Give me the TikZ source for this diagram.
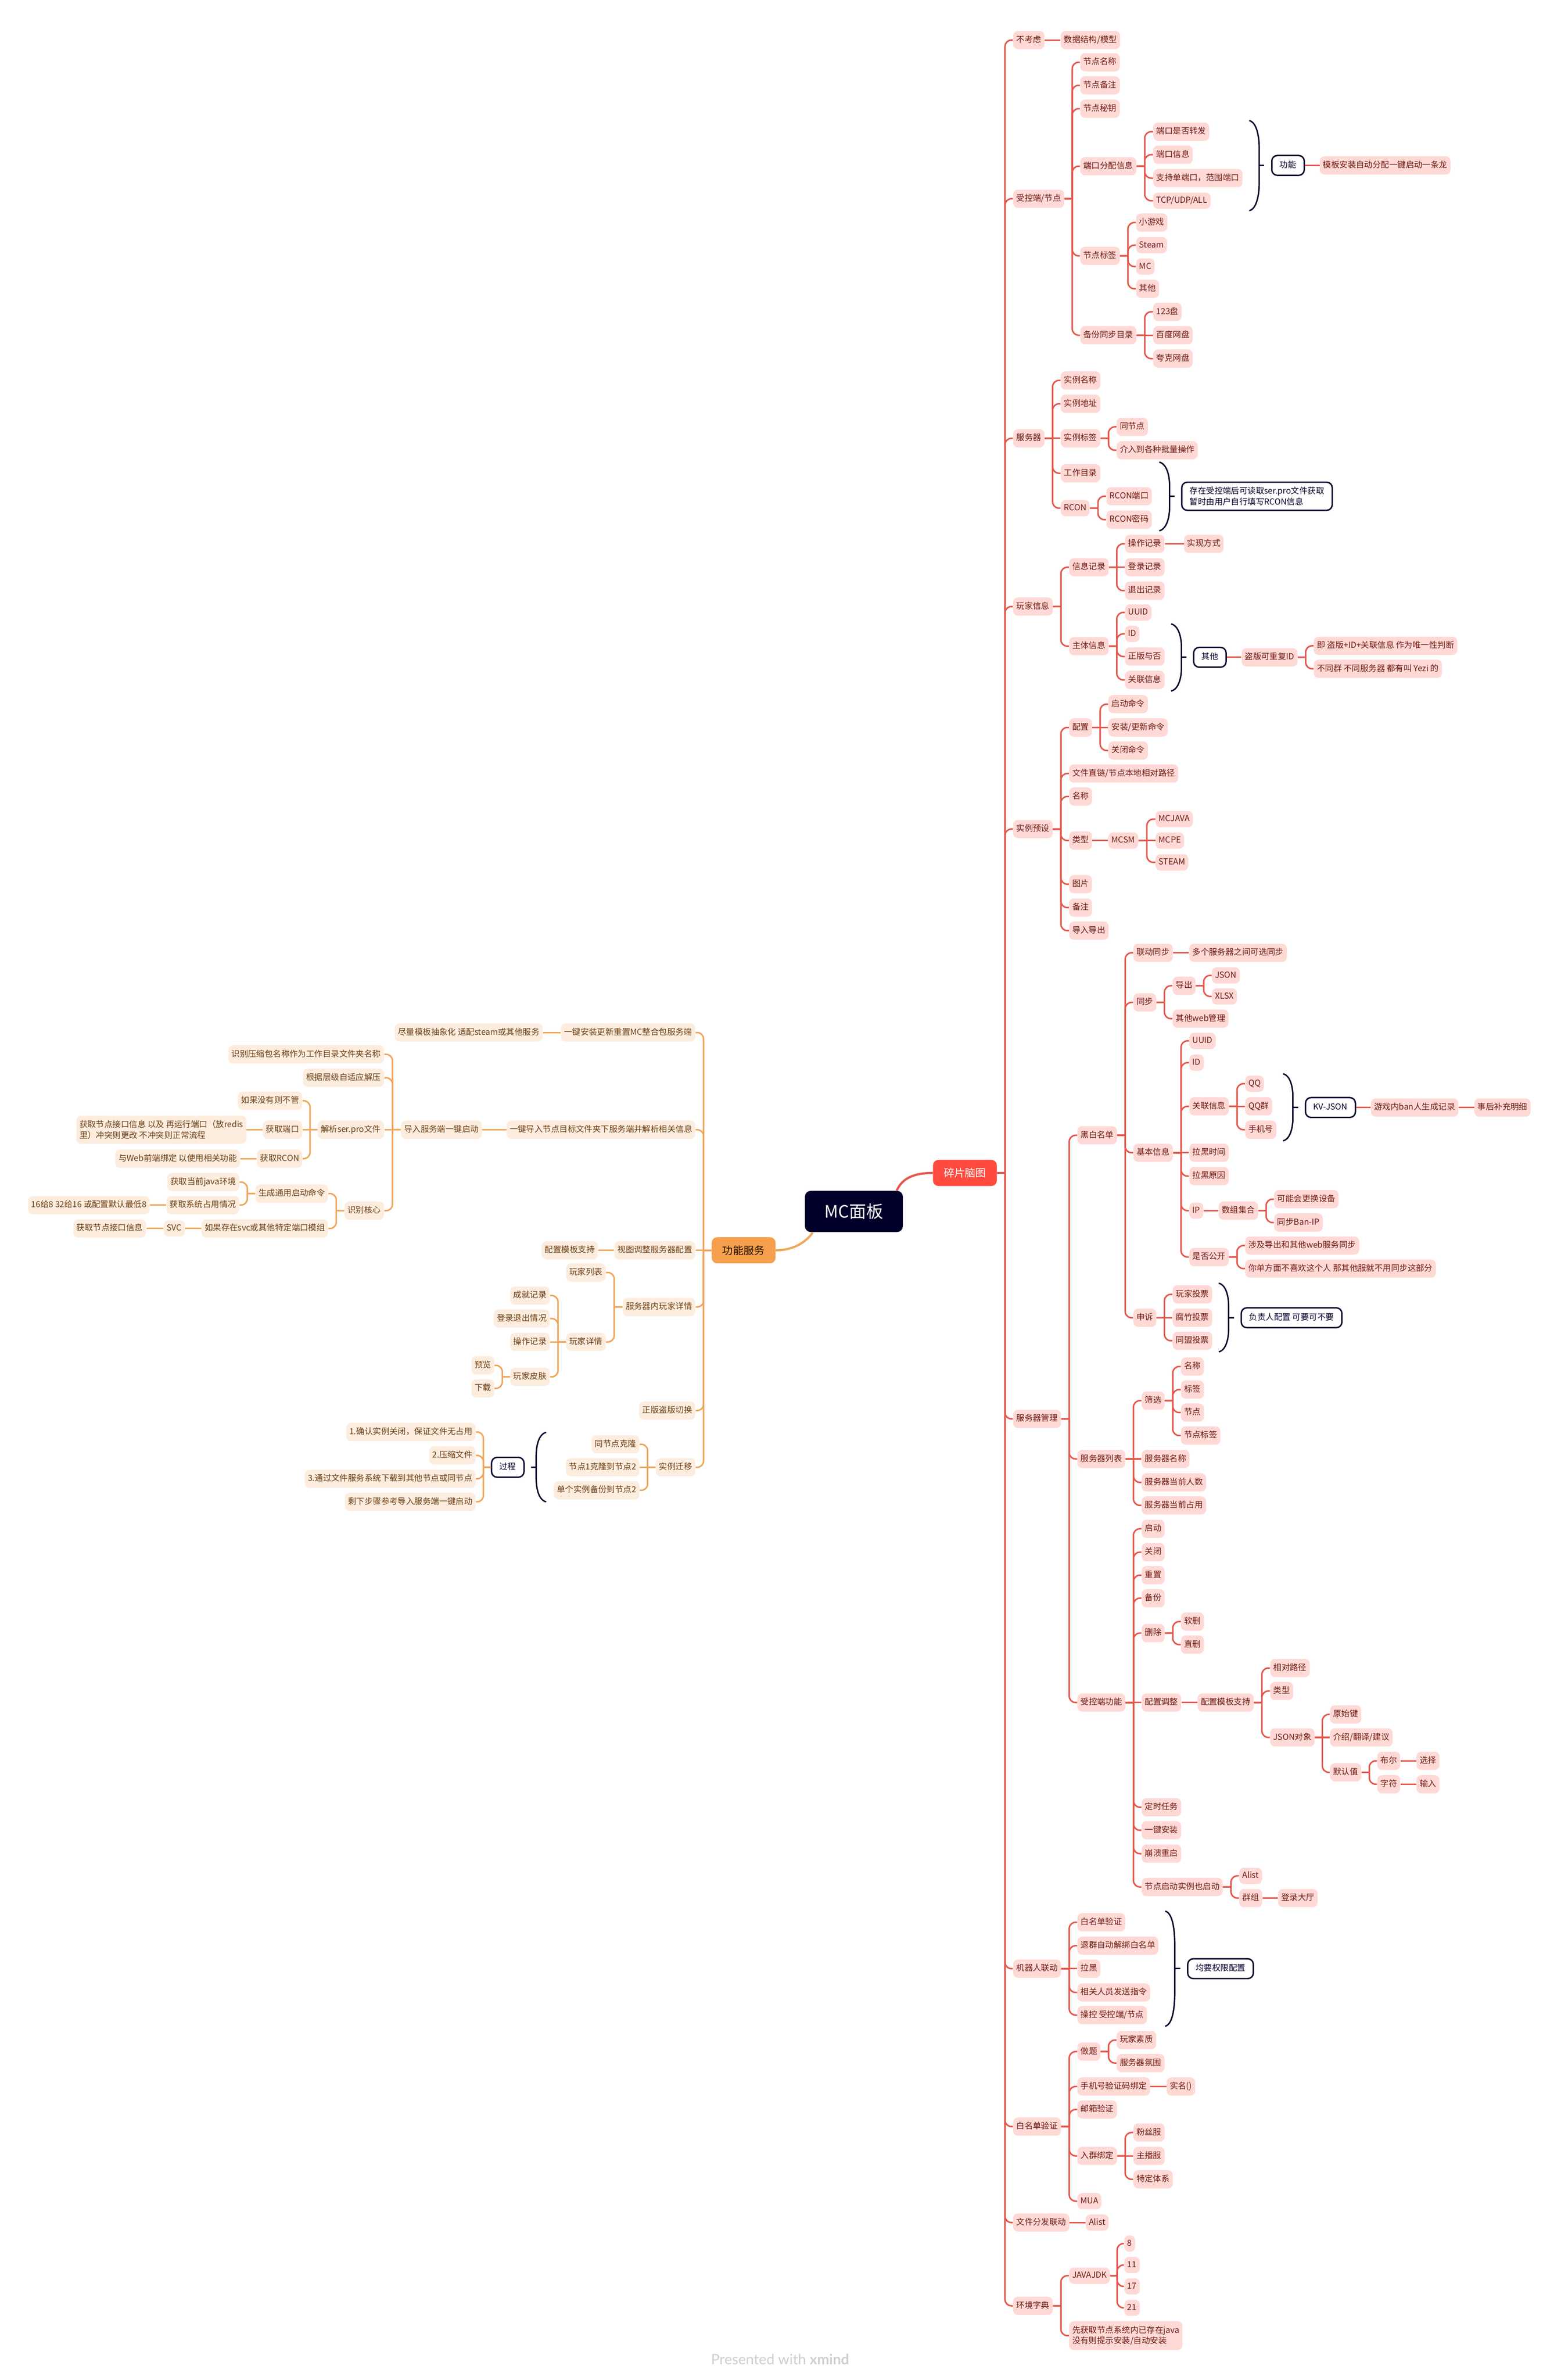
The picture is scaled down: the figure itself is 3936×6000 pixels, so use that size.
\documentclass[tikz,border=0pt]{standalone}
\usepackage{fontspec}
\setmainfont{Noto Sans CJK SC}
\newfontfamily\markfont{Lato}
\usepackage{xcolor}
\usetikzlibrary{calc}
\definecolor{redfill}{HTML}{FFD9D6}
\definecolor{redtext}{HTML}{6E1A12}
\definecolor{redstroke}{HTML}{E6574C}
\definecolor{redmainfill}{HTML}{FF4A3F}
\definecolor{orangefill}{HTML}{FDEDDF}
\definecolor{orangetext}{HTML}{6B3D12}
\definecolor{orangestroke}{HTML}{F0A55A}
\definecolor{orangemainfill}{HTML}{F6A04D}
\definecolor{navy}{HTML}{00002A}
\definecolor{marktext}{HTML}{CFCFCF}
\newcommand{\leaffont}{\fontsize{5.95}{7.8}\selectfont}
\tikzstyle{redleaf} = [rectangle, rounded corners=1.2mm, minimum height=4.6mm, inner xsep=0.8mm, inner ysep=0mm, text height=1.65mm, text depth=0.45mm, fill=redfill, text=redtext, anchor=west, font=\leaffont]
\tikzstyle{redshort} = [redleaf, minimum height=4.1mm]
\tikzstyle{orangeleaf} = [rectangle, rounded corners=1.2mm, minimum height=4.6mm, inner xsep=0.8mm, inner ysep=0mm, text height=1.65mm, text depth=0.45mm, fill=orangefill, text=orangetext, anchor=east, font=\leaffont]
\tikzstyle{orangeshort} = [orangeleaf, minimum height=4.1mm]
\tikzstyle{noteleft} = [rectangle, rounded corners=1.4mm, minimum height=5mm, inner xsep=2mm, inner ysep=0mm, text height=1.65mm, text depth=0.45mm, draw=navy, line width=0.35mm, fill=white, text=navy, anchor=west, font=\leaffont]
\tikzstyle{noteright} = [noteleft, anchor=east]
\tikzstyle{twolines} = [text height=, text depth=, align=left, inner ysep=1.2mm]
\tikzstyle{rootbox} = [rectangle, rounded corners=1.5mm, minimum width=24.7mm, minimum height=10.4mm, fill=navy, text=white, font=\fontsize{12.2}{14}\selectfont]
\tikzstyle{redmain} = [rectangle, rounded corners=1.4mm, minimum width=16.1mm, minimum height=6.6mm, fill=redmainfill, text=white, font=\fontsize{7.6}{9}\selectfont]
\tikzstyle{orangemain} = [rectangle, rounded corners=1.4mm, minimum width=16.1mm, minimum height=6.6mm, fill=orangemainfill, text=black!85!orange, font=\fontsize{7.6}{9}\selectfont]
\tikzstyle{twig} = [rounded corners=1.6mm, to path={-- ($(\tikztostart)!0.5!(\tikztostart -| \tikztotarget)$) ($(\tikztostart)!0.5!(\tikztostart -| \tikztotarget)$) |- (\tikztotarget)}]
\tikzstyle{redline} = [twig, draw=redstroke, line width=0.38mm]
\tikzstyle{orangeline} = [twig, draw=orangestroke, line width=0.38mm]
\tikzstyle{redcurve} = [draw=redstroke, line width=0.55mm]
\tikzstyle{orangecurve} = [draw=orangestroke, line width=0.55mm]
\tikzstyle{brace} = [draw=navy, line width=0.35mm]
\tikzstyle{watermarktext} = [text=marktext, font=\markfont\fontsize{10.3}{12}\selectfont]

\begin{document}
\begin{tikzpicture}[x=0.1mm, y=-0.1mm]
\path [use as bounding box, fill=white] (0,-2) rectangle (3936,5998);

\node (mc) [rootbox] at (2153,3052) {MC面板};
\node (suipian) [redmain] at (2433,2955) {碎片脑图};
\node (gongneng) [orangemain] at (1875,3150) {功能服务};
\draw [redcurve] (mc.26) .. controls (2275,2968) and (2305,2955) .. (suipian.west);
\draw [orangecurve] (mc.207) .. controls (2032,3130) and (2000,3150) .. (gongneng.east);

\node (exclude) [redleaf] at (2554,99) {不考虑};
\node (datamodel) [redleaf] at (2674,99) {数据结构/模型};
\node (agent) [redleaf] at (2554,499) {受控端/节点};
\node (agent-name) [redleaf] at (2723,155) {节点名称};
\node (agent-note) [redleaf] at (2723,213) {节点备注};
\node (agent-key) [redleaf] at (2723,272) {节点秘钥};
\node (port) [redleaf] at (2723,417) {端口分配信息};
\node (tag) [redleaf] at (2723,643) {节点标签};
\node (backup) [redleaf] at (2723,843) {备份同步目录};
\node (port-forward) [redleaf] at (2907,330) {端口是否转发};
\node (port-info) [redleaf] at (2907,388) {端口信息};
\node (port-range) [redleaf] at (2907,447) {支持单端口，范围端口};
\node (port-proto) [redshort] at (2907,504) {TCP/UDP/ALL};
\node (tag-game) [redleaf] at (2864,559) {小游戏};
\node (tag-steam) [redshort] at (2864,616) {Steam};
\node (tag-mc) [redshort] at (2864,670) {MC};
\node (tag-other) [redleaf] at (2864,726) {其他};
\node (backup-123) [redleaf] at (2907,784) {123盘};
\node (backup-baidu) [redleaf] at (2907,843) {百度网盘};
\node (backup-quark) [redleaf] at (2907,902) {夸克网盘};
\node (feature) [noteleft] at (3205,415) {功能};
\node (feature-text) [redleaf] at (3327,415) {模板安装自动分配一键启动一条龙};

\node (server) [redleaf] at (2554,1103) {服务器};
\node (inst-name) [redleaf] at (2674,957) {实例名称};
\node (inst-addr) [redleaf] at (2674,1016) {实例地址};
\node (inst-tag) [redleaf] at (2674,1103) {实例标签};
\node (inst-dir) [redleaf] at (2674,1191) {工作目录};
\node (rcon) [redshort] at (2674,1279) {RCON};
\node (tag-same) [redleaf] at (2815,1074) {同节点};
\node (tag-batch) [redleaf] at (2815,1133) {介入到各种批量操作};
\node (rcon-port) [redleaf] at (2789,1249) {RCON端口};
\node (rcon-pass) [redleaf] at (2789,1308) {RCON密码};
\node (rcon-box) [noteleft, twolines] at (2978,1249) {存在受控端后可读取ser.pro文件获取\\暂时由用户自行填写RCON信息};

\node (player) [redleaf] at (2554,1527) {玩家信息};
\node (record) [redleaf] at (2695,1428) {信息记录};
\node (subject) [redleaf] at (2695,1627) {主体信息};
\node (rec-op) [redleaf] at (2836,1369) {操作记录};
\node (rec-how) [redleaf] at (2985,1369) {实现方式};
\node (rec-login) [redleaf] at (2836,1428) {登录记录};
\node (rec-logout) [redleaf] at (2836,1487) {退出记录};
\node (sub-uuid) [redshort] at (2836,1542) {UUID};
\node (sub-id) [redshort] at (2836,1596) {ID};
\node (sub-genuine) [redleaf] at (2836,1653) {正版与否};
\node (sub-link) [redleaf] at (2836,1712) {关联信息};
\node (other) [noteleft] at (3008,1655) {其他};
\node (pirate) [redleaf] at (3130,1655) {盗版可重复ID};
\node (pirate-a) [redleaf] at (3312,1626) {即 盗版+ID+关联信息 作为唯一性判断};
\node (pirate-b) [redleaf] at (3312,1684) {不同群 不同服务器 都有叫 Yezi 的};

\node (preset) [redleaf] at (2554,2088) {实例预设};
\node (config) [redleaf] at (2695,1832) {配置};
\node (file-link) [redleaf] at (2695,1948) {文件直链/节点本地相对路径};
\node (pre-name) [redleaf] at (2695,2006) {名称};
\node (pre-type) [redleaf] at (2695,2117) {类型};
\node (pre-image) [redleaf] at (2695,2227) {图片};
\node (pre-note) [redleaf] at (2695,2286) {备注};
\node (pre-io) [redleaf] at (2695,2344) {导入导出};
\node (cmd-start) [redleaf] at (2794,1773) {启动命令};
\node (cmd-update) [redleaf] at (2794,1832) {安装/更新命令};
\node (cmd-stop) [redleaf] at (2794,1890) {关闭命令};
\node (mcsm) [redshort] at (2794,2117) {MCSM};
\node (mcjava) [redshort] at (2913,2063) {MCJAVA};
\node (mcpe) [redshort] at (2913,2117) {MCPE};
\node (steam) [redshort] at (2913,2172) {STEAM};

\node (manage) [redleaf] at (2554,3575) {服务器管理};
\node (blacklist) [redleaf] at (2716,2860) {黑白名单};
\node (srvlist) [redleaf] at (2716,3676) {服务器列表};
\node (ctrl) [redleaf] at (2716,4290) {受控端功能};
\node (sync-link) [redleaf] at (2857,2400) {联动同步};
\node (sync-multi) [redleaf] at (2998,2400) {多个服务器之间可选同步};
\node (sync) [redleaf] at (2857,2525) {同步};
\node (export) [redleaf] at (2956,2483) {导出};
\node (web) [redleaf] at (2956,2566) {其他web管理};
\node (json) [redshort] at (3055,2457) {JSON};
\node (xlsx) [redshort] at (3055,2510) {XLSX};
\node (basic) [redleaf] at (2857,2904) {基本信息};
\node (ban-uuid) [redshort] at (2998,2622) {UUID};
\node (ban-id) [redshort] at (2998,2677) {ID};
\node (ban-link) [redleaf] at (2998,2787) {关联信息};
\node (ban-time) [redleaf] at (2998,2904) {拉黑时间};
\node (ban-why) [redleaf] at (2998,2963) {拉黑原因};
\node (ban-ip) [redshort] at (2998,3050) {IP};
\node (ban-open) [redleaf] at (2998,3167) {是否公开};
\node (qq) [redshort] at (3139,2730) {QQ};
\node (qqgroup) [redleaf] at (3139,2787) {QQ群};
\node (phone) [redleaf] at (3139,2846) {手机号};
\node (kvjson) [noteleft] at (3290,2790) {KV-JSON};
\node (ban-log) [redleaf] at (3456,2790) {游戏内ban人生成记录};
\node (ban-later) [redleaf] at (3717,2790) {事后补充明细};
\node (ip-set) [redleaf] at (3072,3050) {数组集合};
\node (ip-device) [redleaf] at (3212,3021) {可能会更换设备};
\node (ip-sync) [redleaf] at (3212,3080) {同步Ban-IP};
\node (open-a) [redleaf] at (3139,3138) {涉及导出和其他web服务同步};
\node (open-b) [redleaf] at (3139,3196) {你单方面不喜欢这个人 那其他服就不用同步这部分};
\node (appeal) [redleaf] at (2857,3320) {申诉};
\node (vote-player) [redleaf] at (2956,3261) {玩家投票};
\node (vote-owner) [redleaf] at (2956,3320) {腐竹投票};
\node (vote-ally) [redleaf] at (2956,3378) {同盟投票};
\node (duty) [noteleft] at (3128,3320) {负责人配置 可要可不要};

\node (filter) [redleaf] at (2878,3529) {筛选};
\node (f-name) [redleaf] at (2977,3443) {名称};
\node (f-tag) [redleaf] at (2977,3501) {标签};
\node (f-node) [redleaf] at (2977,3559) {节点};
\node (f-nodetag) [redleaf] at (2977,3617) {节点标签};
\node (srv-name) [redleaf] at (2878,3676) {服务器名称};
\node (srv-count) [redleaf] at (2878,3735) {服务器当前人数};
\node (srv-use) [redleaf] at (2878,3793) {服务器当前占用};

\node (c-start) [redleaf] at (2878,3852) {启动};
\node (c-stop) [redleaf] at (2878,3911) {关闭};
\node (c-reset) [redleaf] at (2878,3969) {重置};
\node (c-backup) [redleaf] at (2878,4027) {备份};
\node (c-del) [redleaf] at (2878,4115) {删除};
\node (del-soft) [redleaf] at (2977,4086) {软删};
\node (del-hard) [redleaf] at (2977,4144) {直删};
\node (c-config) [redleaf] at (2878,4290) {配置调整};
\node (tpl) [redleaf] at (3019,4290) {配置模板支持};
\node (tpl-path) [redleaf] at (3202,4203) {相对路径};
\node (tpl-type) [redleaf] at (3202,4261) {类型};
\node (tpl-json) [redleaf] at (3202,4378) {JSON对象};
\node (j-key) [redleaf] at (3353,4320) {原始键};
\node (j-intro) [redleaf] at (3353,4378) {介绍/翻译/建议};
\node (j-default) [redleaf] at (3353,4466) {默认值};
\node (j-bool) [redleaf] at (3472,4437) {布尔};
\node (j-char) [redleaf] at (3472,4496) {字符};
\node (j-select) [redleaf] at (3571,4437) {选择};
\node (j-input) [redleaf] at (3571,4496) {输入};
\node (c-timer) [redleaf] at (2878,4554) {定时任务};
\node (c-install) [redleaf] at (2878,4612) {一键安装};
\node (c-crash) [redleaf] at (2878,4671) {崩溃重启};
\node (c-boot) [redleaf] at (2878,4755) {节点启动实例也启动};
\node (b-alist) [redshort] at (3124,4727) {Alist};
\node (b-group) [redleaf] at (3124,4783) {群组};
\node (b-lobby) [redleaf] at (3222,4783) {登录大厅};

\node (bot) [redleaf] at (2554,4961) {机器人联动};
\node (bot-white) [redleaf] at (2716,4844) {白名单验证};
\node (bot-quit) [redleaf] at (2716,4903) {退群自动解绑白名单};
\node (bot-ban) [redleaf] at (2716,4961) {拉黑};
\node (bot-send) [redleaf] at (2716,5021) {相关人员发送指令};
\node (bot-ctrl) [redleaf] at (2716,5078) {操控 受控端/节点};
\node (perm) [noteleft] at (2993,4961) {均要权限配置};

\node (white) [redleaf] at (2554,5359) {白名单验证};
\node (w-quiz) [redleaf] at (2716,5170) {做题};
\node (q-player) [redleaf] at (2815,5141) {玩家素质};
\node (q-server) [redleaf] at (2815,5199) {服务器氛围};
\node (w-phone) [redleaf] at (2716,5258) {手机号验证码绑定};
\node (w-real) [redleaf] at (2941,5258) {实名()};
\node (w-mail) [redleaf] at (2716,5316) {邮箱验证};
\node (w-group) [redleaf] at (2716,5433) {入群绑定};
\node (g-fan) [redleaf] at (2857,5374) {粉丝服};
\node (g-host) [redleaf] at (2857,5433) {主播服};
\node (g-system) [redleaf] at (2857,5492) {特定体系};
\node (w-mua) [redshort] at (2716,5547) {MUA};
\node (dist) [redleaf] at (2554,5601) {文件分发联动};
\node (dist-alist) [redshort] at (2737,5601) {Alist};
\node (env) [redleaf] at (2554,5811) {环境字典};
\node (jdk) [redshort] at (2695,5735) {JAVAJDK};
\node (jdk-8) [redshort] at (2834,5654) {8};
\node (jdk-11) [redshort] at (2834,5708) {11};
\node (jdk-17) [redshort] at (2834,5762) {17};
\node (jdk-21) [redshort] at (2834,5816) {21};
\node (env-note) [redleaf, twolines] at (2695,5886) {先获取节点系统内已存在java\\没有则提示安装/自动安装};

\node (install) [orangeleaf] at (1754,2601) {一键安装更新重置MC整合包服务端};
\node (install-tpl) [orangeleaf] at (1369,2601) {尽量模板抽象化 适配steam或其他服务};
\node (import) [orangeleaf] at (1754,2846) {一键导入节点目标文件夹下服务端并解析相关信息};
\node (import-oneclick) [orangeleaf] at (1216,2846) {导入服务端一键启动};
\node (unzip-name) [orangeleaf] at (969,2656) {识别压缩包名称作为工作目录文件夹名称};
\node (unzip-level) [orangeleaf] at (969,2715) {根据层级自适应解压};
\node (parse) [orangeleaf] at (969,2846) {解析ser.pro文件};
\node (core) [orangeleaf] at (969,3050) {识别核心};
\node (parse-none) [orangeleaf] at (763,2773) {如果没有则不管};
\node (parse-port) [orangeleaf] at (763,2846) {获取端口};
\node (parse-rcon) [orangeleaf] at (763,2919) {获取RCON};
\node (port-check) [orangeleaf, twolines] at (622,2846) {获取节点接口信息 以及 再运行端口（放redis\\里）冲突则更改 不冲突则正常流程};
\node (rcon-web) [orangeleaf] at (606,2919) {与Web前端绑定 以使用相关功能};
\node (core-cmd) [orangeleaf] at (828,3007) {生成通用启动命令};
\node (core-svc) [orangeleaf] at (828,3095) {如果存在svc或其他特定端口模组};
\node (cmd-java) [orangeleaf] at (604,2978) {获取当前java环境};
\node (cmd-sys) [orangeleaf] at (604,3036) {获取系统占用情况};
\node (cmd-mem) [orangeleaf] at (378,3036) {16给8 32给16 或配置默认最低8};
\node (svc) [orangeshort] at (467,3095) {SVC};
\node (svc-port) [orangeleaf] at (369,3095) {获取节点接口信息};

\node (view) [orangeleaf] at (1754,3150) {视图调整服务器配置};
\node (view-tpl) [orangeleaf] at (1508,3150) {配置模板支持};
\node (pdetail) [orangeleaf] at (1754,3293) {服务器内玩家详情};
\node (plist) [orangeleaf] at (1528,3206) {玩家列表};
\node (pinfo) [orangeleaf] at (1528,3381) {玩家详情};
\node (p-achieve) [orangeleaf] at (1387,3264) {成就记录};
\node (p-login) [orangeleaf] at (1387,3322) {登录退出情况};
\node (p-op) [orangeleaf] at (1387,3381) {操作记录};
\node (p-skin) [orangeleaf] at (1387,3469) {玩家皮肤};
\node (skin-view) [orangeleaf] at (1247,3440) {预览};
\node (skin-get) [orangeleaf] at (1247,3498) {下载};
\node (genuine) [orangeleaf] at (1754,3554) {正版盗版切换};
\node (migrate) [orangeleaf] at (1754,3697) {实例迁移};
\node (m-same) [orangeleaf] at (1613,3639) {同节点克隆};
\node (m-node) [orangeleaf] at (1613,3697) {节点1克隆到节点2};
\node (m-backup) [orangeleaf] at (1613,3755) {单个实例备份到节点2};
\node (process) [noteright] at (1323,3697) {过程};
\node (step-1) [orangeleaf] at (1200,3608) {1.确认实例关闭，保证文件无占用};
\node (step-2) [orangeleaf] at (1200,3667) {2.压缩文件};
\node (step-3) [orangeleaf] at (1200,3726) {3.通过文件服务系统下载到其他节点或同节点};
\node (step-4) [orangeleaf] at (1200,3784) {剩下步骤参考导入服务端一键启动};

\node (watermark) [watermarktext] at (1967,5946) {Presented with \textbf{xmind}};

\draw [brace] (3150,302) .. controls (3168,306) and (3175,340) .. (3175,372) -- (3175,459) .. controls (3175,491) and (3168,525) .. (3150,529);
\draw [brace] (2923,1163) .. controls (2941,1167) and (2949,1195) .. (2949,1222) -- (2949,1277) .. controls (2949,1304) and (2941,1332) .. (2923,1336);
\draw [brace] (2953,1571) .. controls (2971,1575) and (2979,1603) .. (2979,1630) -- (2979,1681) .. controls (2979,1708) and (2971,1736) .. (2953,1740);
\draw [brace] (3235,2705) .. controls (3253,2709) and (3260,2737) .. (3260,2764) -- (3260,2815) .. controls (3260,2842) and (3253,2870) .. (3235,2874);
\draw [brace] (3073,3233) .. controls (3091,3237) and (3098,3265) .. (3098,3292) -- (3098,3347) .. controls (3098,3374) and (3091,3402) .. (3073,3406);
\draw [brace] (2938,4816) .. controls (2956,4820) and (2962,4860) .. (2962,4900) -- (2962,5022) .. controls (2962,5062) and (2956,5102) .. (2938,5106);
\draw [brace] (1377,3609) .. controls (1359,3613) and (1352,3641) .. (1352,3668) -- (1352,3725) .. controls (1352,3752) and (1359,3780) .. (1377,3784);

\coordinate (feature-tip) at (3175,415);
\coordinate (feature-end) at (3187,415);
\coordinate (rcon-tip) at (2949,1249);
\coordinate (rcon-end) at (2961,1249);
\coordinate (other-tip) at (2979,1655);
\coordinate (other-end) at (2991,1655);
\coordinate (kvjson-tip) at (3260,2790);
\coordinate (kvjson-end) at (3274,2790);
\coordinate (duty-tip) at (3098,3320);
\coordinate (duty-end) at (3111,3320);
\coordinate (perm-tip) at (2962,4961);
\coordinate (perm-end) at (2976,4961);
\coordinate (process-tip) at (1352,3697);
\coordinate (process-end) at (1339,3697);
\draw [brace] (feature-tip) -- (feature-end);
\draw [brace] (rcon-tip) -- (rcon-end);
\draw [brace] (other-tip) -- (other-end);
\draw [brace] (kvjson-tip) -- (kvjson-end);
\draw [brace] (duty-tip) -- (duty-end);
\draw [brace] (perm-tip) -- (perm-end);
\draw [brace] (process-tip) -- (process-end);

\draw [redline] (suipian.east) to (exclude.west);
\draw [redline] (suipian.east) to (agent.west);
\draw [redline] (suipian.east) to (server.west);
\draw [redline] (suipian.east) to (player.west);
\draw [redline] (suipian.east) to (preset.west);
\draw [redline] (suipian.east) to (manage.west);
\draw [redline] (suipian.east) to (bot.west);
\draw [redline] (suipian.east) to (white.west);
\draw [redline] (suipian.east) to (dist.west);
\draw [redline] (suipian.east) to (env.west);

\draw [redline] (exclude.east) -- (datamodel.west);
\draw [redline] (agent.east) to (agent-name.west);
\draw [redline] (agent.east) to (agent-note.west);
\draw [redline] (agent.east) to (agent-key.west);
\draw [redline] (agent.east) to (port.west);
\draw [redline] (agent.east) to (tag.west);
\draw [redline] (agent.east) to (backup.west);
\draw [redline] (port.east) to (port-forward.west);
\draw [redline] (port.east) to (port-info.west);
\draw [redline] (port.east) to (port-range.west);
\draw [redline] (port.east) to (port-proto.west);
\draw [redline] (tag.east) to (tag-game.west);
\draw [redline] (tag.east) to (tag-steam.west);
\draw [redline] (tag.east) to (tag-mc.west);
\draw [redline] (tag.east) to (tag-other.west);
\draw [redline] (backup.east) to (backup-123.west);
\draw [redline] (backup.east) -- (backup-baidu.west);
\draw [redline] (backup.east) to (backup-quark.west);
\draw [redline] (feature.east) -- (feature-text.west);

\draw [redline] (server.east) to (inst-name.west);
\draw [redline] (server.east) to (inst-addr.west);
\draw [redline] (server.east) -- (inst-tag.west);
\draw [redline] (server.east) to (inst-dir.west);
\draw [redline] (server.east) to (rcon.west);
\draw [redline] (inst-tag.east) to (tag-same.west);
\draw [redline] (inst-tag.east) to (tag-batch.west);
\draw [redline] (rcon.east) to (rcon-port.west);
\draw [redline] (rcon.east) to (rcon-pass.west);

\draw [redline] (player.east) to (record.west);
\draw [redline] (player.east) to (subject.west);
\draw [redline] (record.east) to (rec-op.west);
\draw [redline] (record.east) -- (rec-login.west);
\draw [redline] (record.east) to (rec-logout.west);
\draw [redline] (rec-op.east) -- (rec-how.west);
\draw [redline] (subject.east) to (sub-uuid.west);
\draw [redline] (subject.east) to (sub-id.west);
\draw [redline] (subject.east) to (sub-genuine.west);
\draw [redline] (subject.east) to (sub-link.west);
\draw [redline] (other.east) -- (pirate.west);
\draw [redline] (pirate.east) to (pirate-a.west);
\draw [redline] (pirate.east) to (pirate-b.west);

\draw [redline] (preset.east) to (config.west);
\draw [redline] (preset.east) to (file-link.west);
\draw [redline] (preset.east) to (pre-name.west);
\draw [redline] (preset.east) to (pre-type.west);
\draw [redline] (preset.east) to (pre-image.west);
\draw [redline] (preset.east) to (pre-note.west);
\draw [redline] (preset.east) to (pre-io.west);
\draw [redline] (config.east) to (cmd-start.west);
\draw [redline] (config.east) -- (cmd-update.west);
\draw [redline] (config.east) to (cmd-stop.west);
\draw [redline] (pre-type.east) -- (mcsm.west);
\draw [redline] (mcsm.east) to (mcjava.west);
\draw [redline] (mcsm.east) -- (mcpe.west);
\draw [redline] (mcsm.east) to (steam.west);

\draw [redline] (manage.east) to (blacklist.west);
\draw [redline] (manage.east) to (srvlist.west);
\draw [redline] (manage.east) to (ctrl.west);
\draw [redline] (blacklist.east) to (sync-link.west);
\draw [redline] (blacklist.east) to (sync.west);
\draw [redline] (blacklist.east) to (basic.west);
\draw [redline] (blacklist.east) to (appeal.west);
\draw [redline] (sync-link.east) -- (sync-multi.west);
\draw [redline] (sync.east) to (export.west);
\draw [redline] (sync.east) to (web.west);
\draw [redline] (export.east) to (json.west);
\draw [redline] (export.east) to (xlsx.west);
\draw [redline] (basic.east) to (ban-uuid.west);
\draw [redline] (basic.east) to (ban-id.west);
\draw [redline] (basic.east) to (ban-link.west);
\draw [redline] (basic.east) -- (ban-time.west);
\draw [redline] (basic.east) to (ban-why.west);
\draw [redline] (basic.east) to (ban-ip.west);
\draw [redline] (basic.east) to (ban-open.west);
\draw [redline] (ban-link.east) to (qq.west);
\draw [redline] (ban-link.east) -- (qqgroup.west);
\draw [redline] (ban-link.east) to (phone.west);
\draw [redline] (kvjson.east) -- (ban-log.west);
\draw [redline] (ban-log.east) -- (ban-later.west);
\draw [redline] (ban-ip.east) -- (ip-set.west);
\draw [redline] (ip-set.east) to (ip-device.west);
\draw [redline] (ip-set.east) to (ip-sync.west);
\draw [redline] (ban-open.east) to (open-a.west);
\draw [redline] (ban-open.east) to (open-b.west);
\draw [redline] (appeal.east) to (vote-player.west);
\draw [redline] (appeal.east) -- (vote-owner.west);
\draw [redline] (appeal.east) to (vote-ally.west);

\draw [redline] (srvlist.east) to (filter.west);
\draw [redline] (srvlist.east) -- (srv-name.west);
\draw [redline] (srvlist.east) to (srv-count.west);
\draw [redline] (srvlist.east) to (srv-use.west);
\draw [redline] (filter.east) to (f-name.west);
\draw [redline] (filter.east) to (f-tag.west);
\draw [redline] (filter.east) to (f-node.west);
\draw [redline] (filter.east) to (f-nodetag.west);

\draw [redline] (ctrl.east) to (c-start.west);
\draw [redline] (ctrl.east) to (c-stop.west);
\draw [redline] (ctrl.east) to (c-reset.west);
\draw [redline] (ctrl.east) to (c-backup.west);
\draw [redline] (ctrl.east) to (c-del.west);
\draw [redline] (ctrl.east) -- (c-config.west);
\draw [redline] (ctrl.east) to (c-timer.west);
\draw [redline] (ctrl.east) to (c-install.west);
\draw [redline] (ctrl.east) to (c-crash.west);
\draw [redline] (ctrl.east) to (c-boot.west);
\draw [redline] (c-del.east) to (del-soft.west);
\draw [redline] (c-del.east) to (del-hard.west);
\draw [redline] (c-config.east) -- (tpl.west);
\draw [redline] (tpl.east) to (tpl-path.west);
\draw [redline] (tpl.east) to (tpl-type.west);
\draw [redline] (tpl.east) to (tpl-json.west);
\draw [redline] (tpl-json.east) to (j-key.west);
\draw [redline] (tpl-json.east) -- (j-intro.west);
\draw [redline] (tpl-json.east) to (j-default.west);
\draw [redline] (j-default.east) to (j-bool.west);
\draw [redline] (j-default.east) to (j-char.west);
\draw [redline] (j-bool.east) -- (j-select.west);
\draw [redline] (j-char.east) -- (j-input.west);
\draw [redline] (c-boot.east) to (b-alist.west);
\draw [redline] (c-boot.east) to (b-group.west);
\draw [redline] (b-group.east) -- (b-lobby.west);

\draw [redline] (bot.east) to (bot-white.west);
\draw [redline] (bot.east) to (bot-quit.west);
\draw [redline] (bot.east) -- (bot-ban.west);
\draw [redline] (bot.east) to (bot-send.west);
\draw [redline] (bot.east) to (bot-ctrl.west);

\draw [redline] (white.east) to (w-quiz.west);
\draw [redline] (white.east) to (w-phone.west);
\draw [redline] (white.east) to (w-mail.west);
\draw [redline] (white.east) to (w-group.west);
\draw [redline] (white.east) to (w-mua.west);
\draw [redline] (w-quiz.east) to (q-player.west);
\draw [redline] (w-quiz.east) to (q-server.west);
\draw [redline] (w-phone.east) -- (w-real.west);
\draw [redline] (w-group.east) to (g-fan.west);
\draw [redline] (w-group.east) -- (g-host.west);
\draw [redline] (w-group.east) to (g-system.west);
\draw [redline] (dist.east) -- (dist-alist.west);
\draw [redline] (env.east) to (jdk.west);
\draw [redline] (env.east) to (env-note.west);
\draw [redline] (jdk.east) to (jdk-8.west);
\draw [redline] (jdk.east) to (jdk-11.west);
\draw [redline] (jdk.east) to (jdk-17.west);
\draw [redline] (jdk.east) to (jdk-21.west);

\draw [orangeline] (gongneng.west) to (install.east);
\draw [orangeline] (gongneng.west) to (import.east);
\draw [orangeline] (gongneng.west) -- (view.east);
\draw [orangeline] (gongneng.west) to (pdetail.east);
\draw [orangeline] (gongneng.west) to (genuine.east);
\draw [orangeline] (gongneng.west) to (migrate.east);
\draw [orangeline] (install.west) -- (install-tpl.east);
\draw [orangeline] (import.west) -- (import-oneclick.east);
\draw [orangeline] (import-oneclick.west) to (unzip-name.east);
\draw [orangeline] (import-oneclick.west) to (unzip-level.east);
\draw [orangeline] (import-oneclick.west) -- (parse.east);
\draw [orangeline] (import-oneclick.west) to (core.east);
\draw [orangeline] (parse.west) to (parse-none.east);
\draw [orangeline] (parse.west) -- (parse-port.east);
\draw [orangeline] (parse.west) to (parse-rcon.east);
\draw [orangeline] (parse-port.west) -- (port-check.east);
\draw [orangeline] (parse-rcon.west) -- (rcon-web.east);
\draw [orangeline] (core.west) to (core-cmd.east);
\draw [orangeline] (core.west) to (core-svc.east);
\draw [orangeline] (core-cmd.west) to (cmd-java.east);
\draw [orangeline] (core-cmd.west) to (cmd-sys.east);
\draw [orangeline] (cmd-sys.west) -- (cmd-mem.east);
\draw [orangeline] (core-svc.west) -- (svc.east);
\draw [orangeline] (svc.west) -- (svc-port.east);
\draw [orangeline] (view.west) -- (view-tpl.east);
\draw [orangeline] (pdetail.west) to (plist.east);
\draw [orangeline] (pdetail.west) to (pinfo.east);
\draw [orangeline] (pinfo.west) to (p-achieve.east);
\draw [orangeline] (pinfo.west) to (p-login.east);
\draw [orangeline] (pinfo.west) -- (p-op.east);
\draw [orangeline] (pinfo.west) to (p-skin.east);
\draw [orangeline] (p-skin.west) to (skin-view.east);
\draw [orangeline] (p-skin.west) to (skin-get.east);
\draw [orangeline] (migrate.west) to (m-same.east);
\draw [orangeline] (migrate.west) -- (m-node.east);
\draw [orangeline] (migrate.west) to (m-backup.east);
\draw [orangeline] (process.west) to (step-1.east);
\draw [orangeline] (process.west) to (step-2.east);
\draw [orangeline] (process.west) to (step-3.east);
\draw [orangeline] (process.west) to (step-4.east);
\end{tikzpicture}
\end{document}
